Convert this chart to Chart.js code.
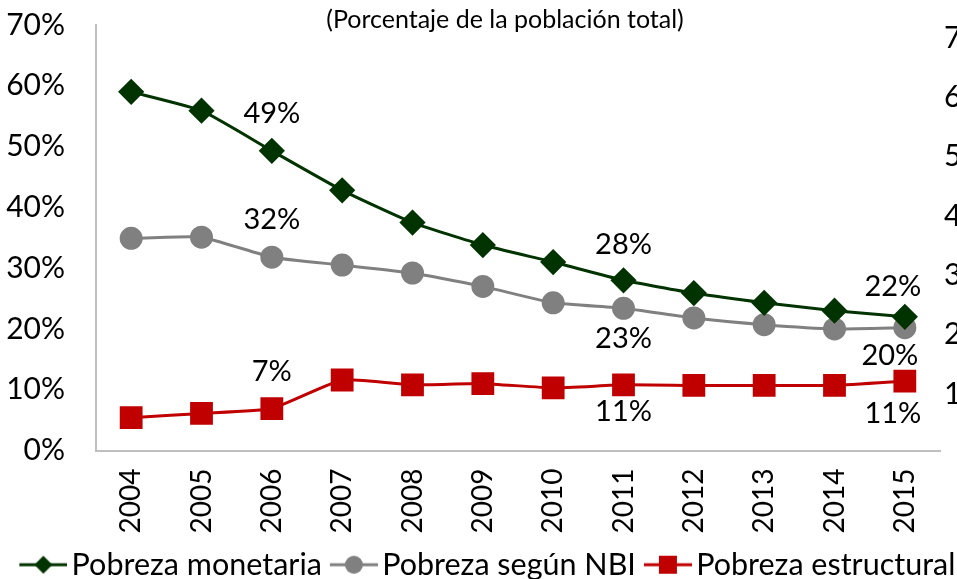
<!DOCTYPE html>
<html lang="es">
<head>
<meta charset="UTF-8">
<script src="https://cdn.jsdelivr.net/npm/chart.js@4.4.0/dist/chart.umd.min.js"></script>
<title>Pobreza</title>
<style>
    html, body { margin: 0; padding: 0; background: #fff; overflow: hidden; }
    #wrap { width: 1004px; height: 579px; position: relative; }
</style>
</head>
<body>
<div id="wrap"><canvas id="chart"></canvas></div>
<script>
    const years = ['2004', '2005', '2006', '2007', '2008', '2009', '2010', '2011', '2012', '2013', '2014', '2015'];
    const monetaria = [59.0, 55.9, 49.3, 42.8, 37.5, 33.8, 31.0, 28.0, 25.9, 24.3, 23.0, 22.0];
    const nbi = [34.9, 35.1, 31.8, 30.5, 29.2, 27.0, 24.3, 23.4, 21.8, 20.7, 20.0, 20.2];
    const estructural = [5.4, 6.1, 6.9, 11.6, 10.8, 11.0, 10.3, 10.8, 10.7, 10.7, 10.7, 11.4];
    const yTicks = [0, 10, 20, 30, 40, 50, 60, 70];

    const FONT = 'Lato, "Open Sans", sans-serif';
    const green = '#003300', gray = '#808080', red = '#c00000';

    // which points get a value label: [dataset, index, dx, dy]
    const valueLabels = [
        [0, 2, 0, -37], [1, 2, 0, -38], [2, 2, 0, -37],
        [0, 7, 0, -36], [1, 7, 0, 30], [2, 7, 0, 27],
        [0, 11, -12, -30], [1, 11, -15, 28], [2, 11, -12, 32]
    ];

    // legend icons: line with the marker in the middle, drawn in the right part
    // of the image so it sits close to the text
    function legendIcon(color, shape) {
        const c = document.createElement('canvas');
        c.width = 56; c.height = 22;
        const g = c.getContext('2d');
        const x0 = 8, cx = 32;
        g.strokeStyle = color; g.lineWidth = 3;
        g.beginPath(); g.moveTo(x0, 11); g.lineTo(56, 11); g.stroke();
        g.fillStyle = color;
        g.beginPath();
        if (shape === 'diamond') {
            g.moveTo(cx, 2); g.lineTo(cx + 9, 11); g.lineTo(cx, 20); g.lineTo(cx - 9, 11);
        } else if (shape === 'circle') {
            g.arc(cx, 11, 9, 0, Math.PI * 2);
        } else {
            g.rect(cx - 9, 2, 18, 18);
        }
        g.fill();
        return c;
    }
    const icons = [legendIcon(green, 'diamond'), legendIcon(gray, 'circle'), legendIcon(red, 'square')];

    const labelPlugin = {
        id: 'labels',
        afterDatasetsDraw(chart) {
            const ctx = chart.ctx;
            ctx.save();
            ctx.font = '29px ' + FONT;
            ctx.fillStyle = '#000';
            ctx.textAlign = 'center';
            ctx.textBaseline = 'middle';
            valueLabels.forEach(([d, i, dx, dy]) => {
                const pt = chart.getDatasetMeta(d).data[i];
                const v = chart.data.datasets[d].data[i];
                ctx.fillText(Math.round(v) + '%', pt.x + dx, pt.y + dy);
            });
            ctx.restore();
        }
    };

    const titlePlugin = {
        id: 'subtitleText',
        afterDraw(chart) {
            const ctx = chart.ctx;
            ctx.save();
            ctx.font = '25px ' + FONT;
            ctx.fillStyle = '#000';
            ctx.textAlign = 'center';
            ctx.textBaseline = 'middle';
            ctx.fillText('(Porcentaje de la población total)', 505, 20);
            ctx.restore();
        }
    };

    // fixed axis sizes so the plot box lands where the original has it
    const fitAxis = size => s => {
        s.paddingTop = 0; s.paddingBottom = 0; s.paddingLeft = 0; s.paddingRight = 0;
        if (s.isHorizontal()) s.height = size; else s.width = size;
    };

    new Chart(document.getElementById('chart'), {
        type: 'line',
        data: {
            labels: years,
            datasets: [
                {
                    label: 'Pobreza monetaria', data: monetaria,
                    borderColor: green, backgroundColor: green, borderWidth: 3,
                    pointStyle: 'rectRot', pointRadius: 11, pointHoverRadius: 11,
                    tension: 0.15
                },
                {
                    label: 'Pobreza según NBI', data: nbi,
                    borderColor: gray, backgroundColor: gray, borderWidth: 3,
                    pointStyle: 'circle', pointRadius: 10, pointHoverRadius: 10,
                    tension: 0.15
                },
                {
                    label: 'Pobreza estructural', data: estructural,
                    borderColor: red, backgroundColor: red, borderWidth: 3,
                    pointStyle: 'rect', pointRadius: 14, pointHoverRadius: 14,
                    tension: 0.15
                }
            ]
        },
        options: {
            responsive: true,
            maintainAspectRatio: false,
            animation: false,
            layout: { padding: { top: 25, left: 5, right: 0, bottom: -11 } },
            plugins: {
                tooltip: { enabled: false },
                legend: {
                    position: 'bottom',
                    labels: {
                        usePointStyle: true,
                        pointStyleWidth: 34,
                        boxHeight: 22,
                        padding: 11,
                        color: '#000',
                        font: { family: FONT, size: 30.5 },
                        generateLabels(chart) {
                            return chart.data.datasets.map((ds, i) => ({
                                // trailing spaces nudge the centred row left like the original
                                text: i === 2 ? ds.label + '    ' : ds.label,
                                pointStyle: icons[i],
                                fillStyle: ds.borderColor, strokeStyle: ds.borderColor,
                                lineWidth: 0, datasetIndex: i, hidden: false
                            }));
                        }
                    }
                }
            },
            scales: {
                x: {
                    offset: true,
                    grid: { display: false, drawTicks: false },
                    border: { color: '#bfbfbf', width: 2 },
                    afterFit: fitAxis(88),
                    ticks: {
                        color: '#000', minRotation: 90, maxRotation: 90, padding: 18,
                        font: { family: FONT, size: 28 }
                    }
                },
                y: {
                    min: 0, max: 70,
                    grid: { display: false, drawTicks: false },
                    border: { color: '#bfbfbf', width: 2 },
                    afterFit: fitAxis(91),
                    afterBuildTicks(axis) { axis.ticks = yTicks.map(v => ({ value: v })); },
                    ticks: {
                        color: '#000', padding: 31,
                        font: { family: FONT, size: 30 },
                        callback: v => v + '%'
                    }
                },
                y2: {
                    position: 'right',
                    min: 0.5, max: 72.2,
                    grid: { display: false, drawTicks: false },
                    border: { display: false },
                    afterFit: fitAxis(64),
                    afterBuildTicks(axis) { axis.ticks = yTicks.slice(1).map(v => ({ value: v })); },
                    ticks: {
                        color: '#000', padding: 4,
                        font: { family: FONT, size: 30 },
                        callback: v => v + '%'
                    }
                }
            }
        },
        plugins: [labelPlugin, titlePlugin]
    });
</script>
</body>
</html>
